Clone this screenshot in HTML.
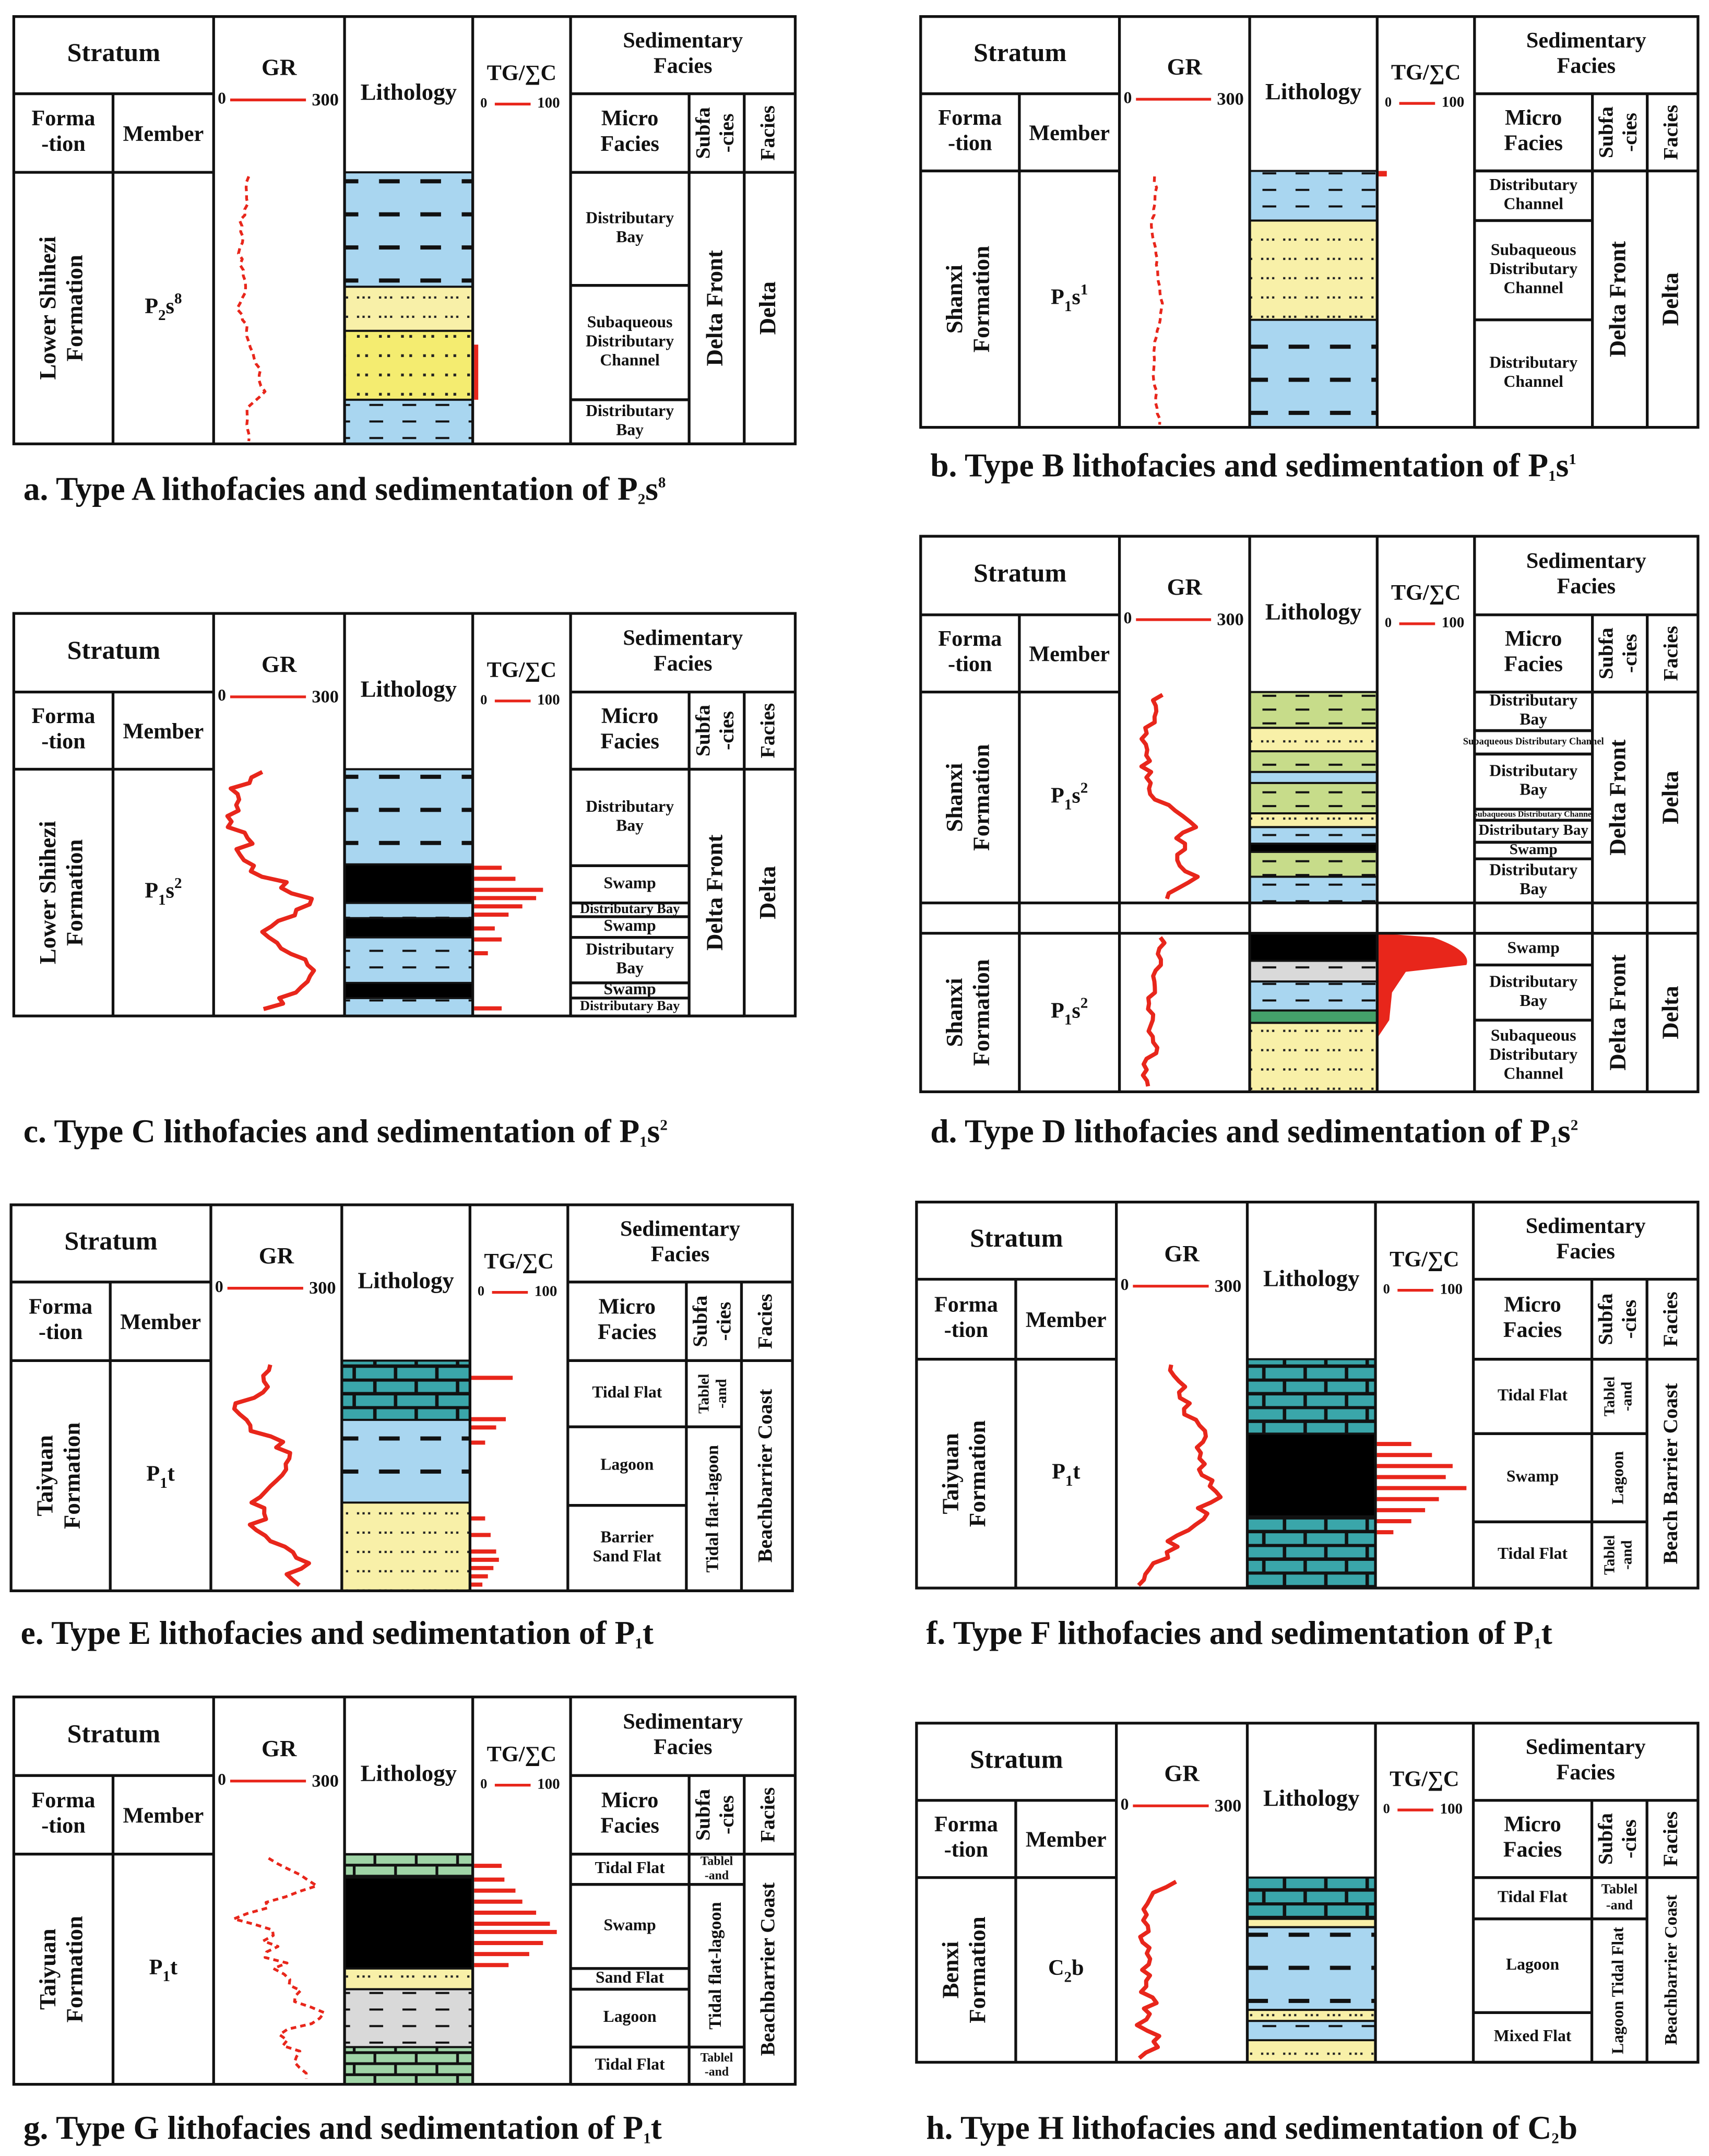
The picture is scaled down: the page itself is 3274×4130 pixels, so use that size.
<!DOCTYPE html>
<html><head><meta charset="utf-8">
<style>
html,body{margin:0;padding:0;background:#fff;}
svg{display:block;}
text{font-family:"Liberation Serif",serif;font-weight:bold;fill:#111;}
</style></head>
<body>
<svg id="s" xmlns="http://www.w3.org/2000/svg" width="3274" height="4130" viewBox="0 0 1240 1564" preserveAspectRatio="none">
<defs>
<pattern id="mud" patternUnits="userSpaceOnUse" width="30" height="24"><rect width="30" height="24" fill="#a9d6f0"/><rect x="5" y="10" width="15" height="3" fill="#111"/></pattern>
<pattern id="mud2" patternUnits="userSpaceOnUse" width="24" height="12"><rect width="24" height="12" fill="#a9d6f0"/><rect x="4" y="5" width="10" height="1.5" fill="#111"/></pattern>
<pattern id="sand" patternUnits="userSpaceOnUse" width="16" height="14"><rect width="16" height="14" fill="#f8f0a8"/><rect x="3" y="5" width="1.6" height="1.6" fill="#222"/><rect x="7" y="5" width="1.6" height="1.6" fill="#222"/><rect x="11" y="5" width="1.6" height="1.6" fill="#222"/></pattern>
<pattern id="sand2" patternUnits="userSpaceOnUse" width="16" height="14"><rect width="16" height="14" fill="#f4ec70"/><rect x="3" y="5" width="2" height="2" fill="#222"/><rect x="9" y="5" width="2" height="2" fill="#222"/></pattern>
<pattern id="lime" patternUnits="userSpaceOnUse" width="30" height="20"><rect width="30" height="20" fill="#3aa6aa"/><path d="M0 1H30M0 11H30M2 1V11M17 11V20" stroke="#111" stroke-width="2.5"/></pattern>
<pattern id="gbrick" patternUnits="userSpaceOnUse" width="30" height="16"><rect width="30" height="16" fill="#9fd4a6"/><path d="M0 1H30M0 9H30M2 1V9M17 9V16" stroke="#111" stroke-width="2"/></pattern>
<pattern id="grey" patternUnits="userSpaceOnUse" width="24" height="12"><rect width="24" height="12" fill="#d9d9d9"/><rect x="4" y="5" width="10" height="1.5" fill="#111"/></pattern>
<pattern id="olive" patternUnits="userSpaceOnUse" width="24" height="10"><rect width="24" height="10" fill="#c7dc8a"/><rect x="4" y="4" width="10" height="1.5" fill="#111"/></pattern>
</defs>
<g id="g"></g>
</svg>
<script>
const G=document.getElementById('g');let H='';
function R(x,y,w,h,f,s){H+=`<rect x="${x}" y="${y}" width="${w}" height="${h}" fill="${f||'none'}" ${s?`stroke="${s}" stroke-width="2"`:''}/>`;}
function L(x1,y1,x2,y2,c,w){H+=`<line x1="${x1}" y1="${y1}" x2="${x2}" y2="${y2}" stroke="${c||'#111'}" stroke-width="${w||2}"/>`;}
function T(x,y,t,sz,rot,anchor){const tr=rot?`transform="rotate(-90 ${x} ${y})"`:'';H+=`<text x="${x}" y="${y}" font-size="${sz}" text-anchor="${anchor||'middle'}" dominant-baseline="middle" ${tr}>${t}</text>`;}
function TL(x,y,lines,sz,rot){const n=lines.length;lines.forEach((l,i)=>{const o=(i-(n-1)/2)*sz*1.15;if(rot)T(x+o,y,l,sz,1);else T(x,y+o,l,sz);});}
let seed=1;function rnd(){seed=(seed*16807)%2147483647;return seed/2147483647;}
function grCurve(g){seed=g.seed;let p=[];const[gx0,gx1,ya,yb,st]=g.v;const mid=(gx0+gx1)/2,hw=(gx1-gx0)/2;let base=0,vel=0;
 for(let y=ya;y<=yb;y+=st){vel=vel*0.7+(rnd()-0.5)*0.35;base+=vel;if(base>0.75){base=0.75;vel=-Math.abs(vel);}if(base<-0.75){base=-0.75;vel=Math.abs(vel);}
  let v=base+(rnd()-0.5)*(g.dash?0.3:0.25);v=Math.max(-1,Math.min(1,v));p.push((mid+v*hw).toFixed(1)+','+y);}
 H+=`<polyline points="${p.join(' ')}" fill="none" stroke="#e8261b" stroke-width="${g.dash?2:3}" stroke-linejoin="round" ${g.dash?'stroke-dasharray="4 3"':''}/>`;}
function panel(o){
 const x0=o.x,W=o.w,y0=o.y,y1=o.y1,h1=o.h1,h2=o.h2;const k=W/567;
 const c=[0,72,145,240,333,404,490,530,567].map(v=>x0+v*k);
 o.lith.forEach(a=>{R(c[3],a[1],c[4]-c[3],a[2]-a[1],a[0]);L(c[3],a[1],c[4],a[1],'#111',1.5);});
 (o.tg||[]).forEach(b=>R(c[4]+1,b[0],b[1],b[2]||3,'#e8261b'));
 if(o.tgpath)H+=o.tgpath;
 (o.gr||[]).forEach(grCurve);
 R(x0,y0,W,y1-y0,null,'#111');
 [2,3,4,5].forEach(i=>L(c[i],y0,c[i],y1));
 L(c[1],h1,c[1],y1);L(c[6],h1,c[6],y1);L(c[7],h1,c[7],y1);
 L(c[0],h1,c[2],h1);L(c[5],h1,c[8],h1);L(c[0],h2,c[2],h2);L(c[5],h2,c[8],h2);
 T((c[0]+c[2])/2,(y0+h1)/2,'Stratum',19);
 TL((c[0]+c[1])/2,(h1+h2)/2,['Forma','-tion'],16);
 T((c[1]+c[2])/2,(h1+h2)/2+2,'Member',16);
 const hm=(y0+h2)/2;
 T((c[2]+c[3])/2,hm-18,'GR',17);
 T(c[2]+6,hm+4,'0',12);L(c[2]+12,hm+4,c[3]-28,hm+4,'#e8261b',2);T(c[3]-14,hm+5,'300',13);
 T((c[3]+c[4])/2,hm,'Lithology',17);
 T((c[4]+c[5])/2,hm-14,'TG/∑C',16);
 T(c[4]+8,hm+7,'0',10);L(c[4]+16,hm+7,c[4]+42,hm+7,'#e8261b',2);T(c[4]+55,hm+7,'100',11);
 TL((c[5]+c[8])/2,(y0+h1)/2,['Sedimentary','Facies'],16);
 TL((c[5]+c[6])/2,(h1+h2)/2,['Micro','Facies'],16);
 TL((c[6]+c[7])/2,(h1+h2)/2,['Subfa','-cies'],15,1);
 T((c[7]+c[8])/2,(h1+h2)/2,'Facies',15,1);
 o.rows.forEach(r=>{
  const[ya,yb,form,mem,fac]=r;
  TL((c[0]+c[1])/2,(ya+yb)/2,form,17,1);
  H+=`<text x="${(c[1]+c[2])/2}" y="${(ya+yb)/2}" font-size="16" text-anchor="middle" dominant-baseline="middle">${mem}</text>`;
  T((c[7]+c[8])/2,(ya+yb)/2,fac,o.facsz||17,1);
 });
 o.micro.forEach(m=>{L(c[5],m[1],c[6],m[1]);L(c[5],m[2],c[6],m[2]);const lines=m[0].split('|');const sz=m[3]||12;TL((c[5]+c[6])/2,(m[1]+m[2])/2,lines,sz);});
 o.sub.forEach(s=>{L(c[6],s[1],c[7],s[1]);L(c[6],s[2],c[7],s[2]);const lines=s[0].split('|');TL((c[6]+c[7])/2,(s[1]+s[2])/2,lines,s[3]||16,s[4]===0?0:1);});
 if(o.split){L(c[0],o.split[0],c[8],o.split[0]);L(c[0],o.split[1],c[8],o.split[1]);}
 H+=`<text x="${x0+7}" y="${o.cap}" font-size="24" text-anchor="start" dominant-baseline="middle">${o.caption}</text>`;
}
const sub=(s)=>`<tspan baseline-shift="sub" font-size="11">${s}</tspan>`;
const sup=(s)=>`<tspan baseline-shift="super" font-size="11">${s}</tspan>`;
const M=(a,b)=>`P${sub(a)}s${sup(b)}`;
panel({x:10,w:567,y:12,y1:322,h1:68,h2:125,cap:357,caption:`a. Type A lithofacies and sedimentation of P${sub(2)}s${sup(8)}`,
lith:[['url(#mud)',125,208],['url(#sand)',208,240],['url(#sand2)',240,290],['url(#mud2)',290,322]],
tg:[[250,3,40]],gr:[{seed:5,dash:1,v:[170,194,128,320,4]}],
rows:[[125,322,['Lower Shihezi','Formation'],M(2,8),'Delta']],
micro:[['Distributary|Bay',125,207],['Subaqueous|Distributary|Channel',207,290],['Distributary|Bay',290,322]],
sub:[['Delta Front',125,322,17]]});
panel({x:668,w:564,y:12,y1:310,h1:68,h2:124,cap:340,caption:`b. Type B lithofacies and sedimentation of P${sub(1)}s${sup(1)}`,
lith:[['url(#mud2)',124,160],['url(#sand)',160,232],['url(#mud)',232,310]],
tg:[[124,6,4]],gr:[{seed:9,dash:1,v:[834,844,128,308,4]}],
rows:[[124,310,['Shanxi','Formation'],M(1,1),'Delta']],
micro:[['Distributary|Channel',124,160],['Subaqueous|Distributary|Channel',160,232],['Distributary|Channel',232,310]],
sub:[['Delta Front',124,310,17]]});
panel({x:10,w:567,y:445,y1:737,h1:502,h2:558,cap:823,caption:`c. Type C lithofacies and sedimentation of P${sub(1)}s${sup(2)}`,
lith:[['url(#mud)',558,627],['#000',627,655],['url(#mud2)',655,666],['#000',666,680],['url(#mud2)',680,713],['#000',713,724],['url(#mud2)',724,737]],
tg:[[628,20],[636,30],[644,50],[650,45],[656,35],[662,25],[672,15],[680,20],[690,10],[730,20]],
gr:[{seed:3,v:[160,236,560,732,4]}],
rows:[[558,737,['Lower Shihezi','Formation'],M(1,2),'Delta']],
micro:[['Distributary|Bay',558,628],['Swamp',628,655],['Distributary Bay',655,665,10],['Swamp',665,680],['Distributary|Bay',680,713],['Swamp',713,724],['Distributary Bay',724,737,10]],
sub:[['Delta Front',558,737,17]]});
panel({x:668,w:564,y:389,y1:792,h1:446,h2:502,cap:823,caption:`d. Type D lithofacies and sedimentation of P${sub(1)}s${sup(2)}`,split:[655,677],
lith:[['url(#olive)',502,528],['url(#sand)',528,545],['url(#olive)',545,560],['url(#mud2)',560,568],['url(#olive)',568,590],['url(#sand)',590,600],['url(#mud2)',600,612],['#000',612,618],['url(#olive)',618,636],['url(#mud2)',636,655],['#fff',655,677],
['#000',677,697],['url(#grey)',697,712],['url(#mud2)',712,733],['#44a06a',733,742],['url(#sand)',742,792]],
tgpath:'<path d="M1000 677 L1040 680 Q1068 690 1064 700 L1020 705 L1010 720 L1008 740 L1000 752 Z" fill="#e8261b"/>',
gr:[{seed:11,v:[824,872,504,652,4]},{seed:17,v:[826,868,680,788,4]}],
rows:[[502,655,['Shanxi','Formation'],M(1,2),'Delta'],[677,792,['Shanxi','Formation'],M(1,2),'Delta']],
micro:[['Distributary|Bay',502,530],['Subaqueous Distributary Channel',530,547,7],['Distributary|Bay',547,587],['Subaqueous Distributary Channel',587,595,6],['Distributary Bay',595,611,11],['Swamp',611,623,11],['Distributary|Bay',623,655],['Swamp',677,700],['Distributary|Bay',700,740],['Subaqueous|Distributary|Channel',740,792]],
sub:[['Delta Front',502,655,17],['Delta Front',677,792,17]]});
panel({x:8,w:567,y:874,y1:1154,h1:930,h2:987,cap:1187,caption:`e. Type E lithofacies and sedimentation of P${sub(1)}t`,
lith:[['url(#lime)',987,1030],['url(#mud)',1030,1090],['url(#sand)',1090,1154]],
tg:[[998,30],[1028,25],[1034,18],[1045,10],[1100,10],[1112,14],[1124,18],[1130,20],[1136,16],[1142,12],[1148,8]],
gr:[{seed:21,v:[164,236,990,1150,4]}],
rows:[[987,1154,['Taiyuan','Formation'],`P${sub(1)}t`,'Beachbarrier Coast']],facsz:15,
micro:[['Tidal Flat',987,1035],['Lagoon',1035,1092],['Barrier|Sand Flat',1092,1154]],
sub:[['Tablel|-and',987,1035,11],['Tidal flat-lagoon',1035,1154,13]]});
panel({x:665,w:567,y:872,y1:1152,h1:928,h2:986,cap:1187,caption:`f. Type F lithofacies and sedimentation of P${sub(1)}t`,
lith:[['url(#lime)',986,1040],['#000',1040,1100],['url(#lime)',1100,1152]],
tg:[[1046,25],[1054,40],[1062,55],[1070,50],[1078,65],[1086,45],[1094,35],[1102,25],[1110,12]],
gr:[{seed:33,v:[820,896,990,1150,4]}],
rows:[[986,1152,['Taiyuan','Formation'],`P${sub(1)}t`,'Beach Barrier Coast']],facsz:15,
micro:[['Tidal Flat',986,1040],['Swamp',1040,1104],['Tidal Flat',1104,1152]],
sub:[['Tablel|-and',986,1040,11],['Lagoon',1040,1104,12],['Tablel|-and',1104,1152,11]]});
panel({x:10,w:567,y:1231,y1:1512,h1:1288,h2:1345,cap:1546,caption:`g. Type G lithofacies and sedimentation of P${sub(1)}t`,
lith:[['url(#gbrick)',1345,1362],['#000',1362,1428],['url(#sand)',1428,1443],['url(#grey)',1443,1485],['url(#gbrick)',1485,1512]],
tg:[[1352,20],[1362,22],[1370,30],[1378,35],[1386,45],[1394,55],[1400,60],[1408,50],[1416,40],[1424,25]],
gr:[{seed:41,dash:1,v:[164,242,1348,1510,4]}],
rows:[[1345,1512,['Taiyuan','Formation'],`P${sub(1)}t`,'Beachbarrier Coast']],facsz:15,
micro:[['Tidal Flat',1345,1367],['Swamp',1367,1428],['Sand Flat',1428,1443],['Lagoon',1443,1485],['Tidal Flat',1485,1512]],
sub:[['Tablel|-and',1345,1367,9,0],['Tidal flat-lagoon',1367,1485,13],['Tablel|-and',1485,1512,9,0]]});
panel({x:665,w:567,y:1250,y1:1496,h1:1306,h2:1362,cap:1546,caption:`h. Type H lithofacies and sedimentation of C${sub(2)}b`,
lith:[['url(#lime)',1362,1392],['url(#sand)',1392,1398],['url(#mud)',1398,1458],['url(#sand)',1458,1466],['url(#mud2)',1466,1480],['url(#sand)',1480,1496]],
gr:[{seed:51,v:[820,896,1365,1494,4]}],
rows:[[1362,1496,['Benxi','Formation'],`C${sub(2)}b`,'Beachbarrier Coast']],facsz:13,
micro:[['Tidal Flat',1362,1392],['Lagoon',1392,1460],['Mixed Flat',1460,1496]],
sub:[['Tablel|-and',1362,1392,10,0],['Lagoon Tidal Flat',1392,1496,12]]});
G.innerHTML=H;
</script>
</body></html>
